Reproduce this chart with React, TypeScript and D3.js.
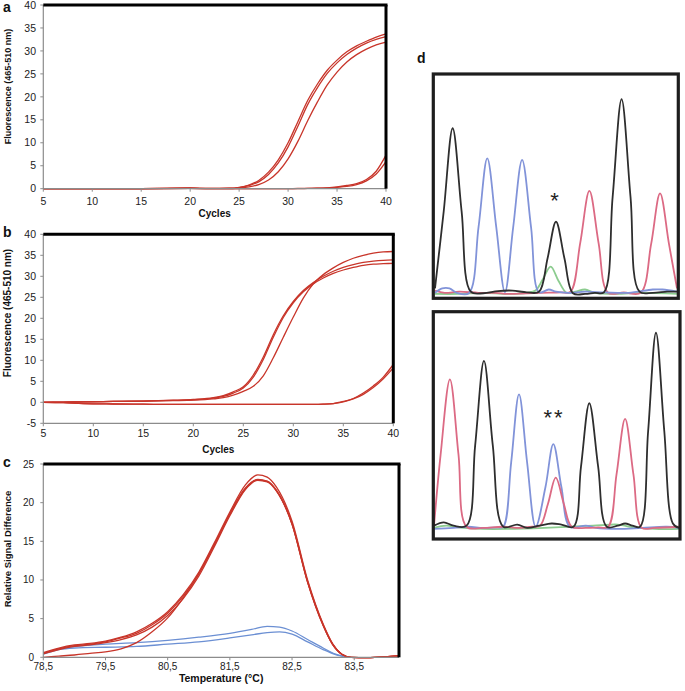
import React from "react";
import * as d3 from "d3";

// ---------- Panel a ----------
const cyclesA = [5, 10, 15, 20, 22, 24, 25, 26, 27, 28, 29, 30, 31, 32, 33, 34, 35, 36, 37, 38, 39, 40];
const a1 = [0, 0, 0, 0.1, 0.05, 0.1, 0.3, 0.8, 1.8, 3.6, 6.3, 10, 14.6, 19.2, 22.8, 25.8, 28.0, 29.8, 31.1, 32.1, 33.0, 33.7];
const a2 = [0, 0, 0, 0.1, 0.05, 0.1, 0.25, 0.7, 1.5, 3.1, 5.6, 9.1, 13.6, 18.3, 22.0, 25.1, 27.4, 29.2, 30.6, 31.7, 32.5, 33.1];
const a3 = [0, 0, 0, 0.05, 0, 0, 0.15, 0.4, 0.9, 1.9, 3.7, 6.5, 10.3, 14.8, 18.9, 22.6, 25.4, 27.6, 29.2, 30.4, 31.3, 31.9];
const a4 = [0, 0, 0, 0.1, 0, 0, 0, 0, 0, 0, 0, 0, 0.05, 0.05, 0.1, 0.2, 0.4, 0.7, 1.1, 2.0, 3.8, 7.3];
const a5 = [0, 0, 0, 0.05, 0, 0, 0, 0, 0, 0, 0, 0, 0, 0.05, 0.1, 0.15, 0.3, 0.5, 0.9, 1.7, 3.2, 5.9];
const xTicksAB = [5, 10, 15, 20, 25, 30, 35, 40];
const yTicksA = [0, 5, 10, 15, 20, 25, 30, 35, 40];

// ---------- Panel b ----------
const cyclesB = [5, 7, 9, 12, 15, 18, 20, 22, 23, 24, 25, 26, 27, 28, 29, 30, 31, 32, 33, 34, 35, 36, 37, 38, 39, 40];
const b1 = [0, 0.05, 0.1, 0.2, 0.3, 0.5, 0.7, 1.1, 1.6, 2.5, 3.7, 6.5, 10.8, 16.1, 20.6, 24, 26.6, 28.5, 30, 31.2, 32.1, 32.8, 33.3, 33.6, 33.8, 33.9];
const b2 = [0, 0.05, 0.1, 0.2, 0.3, 0.45, 0.6, 1.0, 1.4, 2.2, 3.4, 6.0, 10.2, 15.5, 20.2, 23.7, 26.3, 28.2, 29.6, 30.7, 31.5, 32.1, 32.6, 32.9, 33.0, 33.1];
const b3 = [0, 0.05, 0.1, 0.2, 0.3, 0.4, 0.5, 0.8, 1.1, 1.7, 2.6, 3.8, 6.3, 10.6, 15.5, 20.3, 24.8, 28.2, 30.4, 32, 33.3, 34.3, 35, 35.5, 35.8, 35.9];
const b4 = [0, -0.1, -0.3, -0.4, -0.45, -0.5, -0.5, -0.5, -0.5, -0.5, -0.5, -0.5, -0.5, -0.5, -0.5, -0.5, -0.5, -0.5, -0.45, -0.3, 0.2, 0.9, 2.2, 3.9, 6.0, 9.0];
const b5 = [0, -0.1, -0.3, -0.4, -0.45, -0.5, -0.5, -0.5, -0.5, -0.5, -0.5, -0.5, -0.5, -0.5, -0.5, -0.5, -0.5, -0.5, -0.45, -0.3, 0.1, 0.8, 1.9, 3.5, 5.6, 8.2];
const yTicksB = [-5, 0, 5, 10, 15, 20, 25, 30, 35, 40];

// ---------- Panel c ----------
const tempC = [78.5, 78.75, 79, 79.25, 79.5, 79.75, 80, 80.25, 80.5, 80.75, 81, 81.25, 81.5, 81.75, 81.95, 82.1, 82.25, 82.5, 82.75, 83, 83.15, 83.3, 83.45, 83.7, 84, 84.22];
const r1 = [0.6, 1.2, 1.6, 1.8, 2.1, 2.6, 3.3, 4.4, 5.9, 8.1, 11.0, 14.8, 18.8, 22.3, 23.6, 23.3, 22.0, 17.6, 10.0, 4.3, 1.8, 0.4, 0, -0.05, 0.05, 0.2];
const r2 = [0.5, 1.1, 1.5, 1.7, 2.0, 2.5, 3.1, 4.2, 5.7, 7.9, 10.8, 14.6, 18.6, 21.9, 23.0, 22.8, 21.6, 17.3, 9.8, 4.2, 1.7, 0.4, 0, -0.05, 0.05, 0.2];
const r3 = [0.45, 1.0, 1.4, 1.6, 1.9, 2.3, 2.9, 3.9, 5.4, 7.6, 10.5, 14.3, 18.3, 21.7, 22.9, 22.7, 21.5, 17.2, 9.7, 4.1, 1.7, 0.4, 0, -0.05, 0.05, 0.2];
const r4 = [0, 0.15, 0.3, 0.5, 0.7, 1.1, 1.9, 3.3, 5.1, 7.7, 10.8, 14.5, 18.5, 21.8, 22.95, 22.75, 21.55, 17.25, 9.75, 4.15, 1.7, 0.4, 0, -0.05, 0.05, 0.2];
const blueT = [78.5, 78.75, 79, 79.5, 80, 80.5, 81, 81.5, 81.85, 82.1, 82.3, 82.5, 82.75, 83, 83.2, 83.4];
const bl1 = [0.5, 1.1, 1.4, 1.7, 1.9, 2.2, 2.6, 3.1, 3.6, 4.0, 3.9, 3.4, 2.3, 1.2, 0.4, 0];
const bl2 = [0.4, 1.0, 1.2, 1.3, 1.4, 1.7, 2.0, 2.5, 2.9, 3.2, 3.3, 3.0, 2.0, 1.0, 0.35, 0];
const xTicksC = [78.5, 79.5, 80.5, 81.5, 82.5, 83.5];
const xTickLabelsC = ["78,5", "79,5", "80,5", "81,5", "82,5", "83,5"];
const yTicksC = [0, 5, 10, 15, 20, 25];

// ---------- Panel d (chromatograms, x: scan 0-100, y: signal 0-100) ----------
const dUpperBlack = [[0, 3], [3.6, 38], [7.3, 75.8], [11, 38], [14.8, 1.5], [20, 0.8], [26, 1.8], [32, 2], [38, 1.2], [43, 1.5], [46.5, 16.6], [50, 33.3], [53.5, 16.6], [57, 0.8], [62, 0.5], [66, 1], [69.8, 1.2], [73.4, 44.5], [77.1, 89], [80.8, 44.5], [84.5, 1.5], [90, 1], [96, 1.5], [100, 1.5]];
const dUpperBlue = [[0, 1], [3, 3], [6, 3], [9, 1], [14, 0.8], [18, 31], [21.6, 62.1], [25.3, 31], [28.9, 1.2], [32.3, 30.7], [36, 61.4], [39.7, 30.7], [43, 1.2], [47, 2.5], [50, 1.5], [55, 1], [62, 1.5], [70, 1.2], [80, 1], [90, 2.5], [94, 2.5], [100, 1.5]];
const dUpperRed = [[0, 2], [4, 1], [10, 1.5], [18, 1], [25, 1], [30, 0.5], [38, 0.8], [44, 1], [52, 1.2], [56, 1.5], [60, 23.6], [63.8, 47.3], [67.6, 23.6], [71.5, 1], [78, 1.2], [85, 1], [89.3, 23.1], [93, 46.2], [96.7, 23.1], [100, 3]];
const dUpperGreen = [[0, 0.5], [10, 0.5], [20, 1], [30, 0.5], [38, 1], [41.5, 2], [44.5, 7], [47.8, 12.9], [51, 6.5], [54.4, 1], [58, 1.5], [62, 2.5], [66, 1], [75, 0.5], [85, 1], [100, 0.5]];
const dLowerRed = [[0, 2], [2.7, 34.7], [6.5, 69.4], [10, 34.7], [13.3, 1.5], [20, 1], [28, 1.5], [35, 1], [40, 1.5], [43.3, 2], [46.5, 12], [49.7, 24.1], [53, 12], [56.2, 1.5], [62, 1], [67, 1.2], [71.1, 1.5], [74.5, 25.6], [78, 51.2], [81.4, 25.6], [84.8, 1], [90, 1], [100, 1.5]];
const dLowerBlack = [[0, 2], [4, 3.5], [8, 2], [13.3, 2], [16.8, 39], [20.4, 77.9], [24, 39], [28.3, 1.5], [34, 2.5], [38, 1], [43, 2], [48, 3], [52, 2.5], [56.9, 1.5], [60, 29.2], [63.4, 58.4], [67, 29.2], [70.5, 1.5], [75, 2], [78, 3], [81, 2], [84.1, 1.5], [87.4, 45.5], [90.6, 90.9], [94, 45.5], [97.5, 3], [100, 1]];
const dLowerBlue = [[0, 0.5], [8, 1], [14, 1.5], [20, 1], [26, 1.2], [28.3, 1.5], [31.5, 31.2], [34.7, 62.5], [38, 31.2], [41.5, 1.5], [45.5, 19.8], [48.7, 39.6], [52, 19.8], [55.5, 1.5], [62, 2], [66, 1], [75, 0.5], [85, 1], [95, 1.5], [100, 1]];
const dLowerGreen = [[0, 1], [5, 2], [10, 1.2], [20, 0.5], [30, 0.5], [45, 1], [55, 1.5], [65, 2], [75, 2.5], [80, 1.5], [90, 0.5], [100, 0.5]];

const FONT = "'Liberation Sans', Arial, Helvetica, sans-serif";
const RED = "#c8352a";
const BLUE = "#6b8fd3";
const AXIS = "#8c8c8c";
const C_BLACK = "#2e2e2e";
const C_BLUE = "#8193d9";
const C_RED = "#dc6a84";
const C_GREEN = "#8ccc8f";

type Series = { xs: number[]; ys: number[]; color: string };

function Panel(props: {
  x0: number; x1: number; yTop: number; yBot: number;
  xDomain: [number, number]; yDomain: [number, number];
  xTicks: number[]; xLabels: string[]; yTicks: number[];
  xLabelY: number; series: Series[];
  xTitle: string; xTitleY: number; yTitle: string; yTitleY: number; yTitleSize: number;
  letter: string; letterY: number; xTitleSize?: number; tickSize?: number; yLabelX?: number;
}) {
  const p = props;
  const x = d3.scaleLinear().domain(p.xDomain).range([p.x0, p.x1]);
  const y = d3.scaleLinear().domain(p.yDomain).range([p.yBot, p.yTop]);
  const line = d3.line<[number, number]>().x((d) => x(d[0])).y((d) => y(d[1])).curve(d3.curveMonotoneX);
  const ts = p.tickSize || 10.5;
  return (
    <g>
      {p.series.map((s, i) => (
        <path key={i} d={line(s.xs.map((v, j) => [v, s.ys[j]] as [number, number])) || ""}
          fill="none" stroke={s.color} strokeWidth={1.3} />
      ))}
      <line x1={p.x0} x2={p.x0} y1={p.yTop} y2={p.yBot} stroke={AXIS} strokeWidth={1.2} />
      <line x1={p.x0} x2={p.x1} y1={p.yBot} y2={p.yBot} stroke={AXIS} strokeWidth={1.2} />
      {p.xTicks.map((t, i) => (
        <g key={"xt" + i}>
          <line x1={x(t)} x2={x(t)} y1={p.yBot} y2={p.yBot + 3} stroke={AXIS} />
          <text x={x(t)} y={p.xLabelY} textAnchor="middle" fontSize={ts} fill="#222">{p.xLabels[i]}</text>
        </g>
      ))}
      {p.yTicks.map((t, i) => (
        <g key={"yt" + i}>
          <line x1={p.x0 - 3} x2={p.x0} y1={y(t)} y2={y(t)} stroke={AXIS} />
          <text x={p.yLabelX || 36} y={y(t)} dy="0.35em" textAnchor="end" fontSize={ts} fill="#222">{t}</text>
        </g>
      ))}
      <line x1={p.x0} x2={p.x1 + 1.5} y1={p.yTop} y2={p.yTop} stroke="#000" strokeWidth={3} />
      <line x1={p.x1} x2={p.x1} y1={p.yTop} y2={p.yBot} stroke="#000" strokeWidth={3} />
      <text x={(p.x0 + p.x1) / 2} y={p.xTitleY} textAnchor="middle" fontWeight="bold" fontSize={p.xTitleSize || 10} fill="#111">{p.xTitle}</text>
      <text transform={`translate(11,${p.yTitleY}) rotate(-90)`} textAnchor="middle" fontWeight="bold" fontSize={p.yTitleSize} fill="#111">{p.yTitle}</text>
      <text x={3} y={p.letterY} fontWeight="bold" fontSize={14} fill="#111">{p.letter}</text>
    </g>
  );
}

function Chromatogram(props: { bx: number; by: number; bw: number; bh: number; xr: [number, number]; yr: [number, number]; traces: { pts: number[][]; color: string }[]; mark: string; mx: number; my: number; clipId: string }) {
  const p = props;
  const x = d3.scaleLinear().domain([0, 100]).range(p.xr);
  const y = d3.scaleLinear().domain([0, 100]).range(p.yr);
  const line = d3.line<number[]>().x((d) => x(d[0])).y((d) => y(d[1])).curve(d3.curveCatmullRom.alpha(0.5));
  return (
    <g>
      <defs>
        <clipPath id={p.clipId}><rect x={p.bx} y={p.by} width={p.bw} height={p.bh} /></clipPath>
      </defs>
      <rect x={p.bx} y={p.by} width={p.bw} height={p.bh} fill="#fff" />
      <g clipPath={`url(#${p.clipId})`}>
        {p.traces.map((t, i) => (
          <path key={i} d={line(t.pts) || ""} fill="none" stroke={t.color} strokeWidth={1.8} strokeLinejoin="round" />
        ))}
      </g>
      <rect x={p.bx} y={p.by} width={p.bw} height={p.bh} fill="none" stroke="#1e1e1e" strokeWidth={3.2} />
      <text x={p.mx} y={p.my} textAnchor="middle" fontSize={22} fill="#222" letterSpacing={2}>{p.mark}</text>
    </g>
  );
}

export default function App() {
  const sA: Series[] = [a4, a5, a3, a2, a1].map((ys) => ({ xs: cyclesA, ys, color: RED }));
  const sB: Series[] = [b4, b5, b1, b2, b3].map((ys) => ({ xs: cyclesB, ys, color: RED }));
  const sC: Series[] = [
    { xs: blueT, ys: bl1, color: BLUE },
    { xs: blueT, ys: bl2, color: BLUE },
    ...[r4, r3, r2, r1].map((ys) => ({ xs: tempC, ys, color: RED })),
  ];
  return (
    <svg width={685} height={691} style={{ position: "absolute", left: 0, top: 0, background: "#fff" }} fontFamily={FONT}>
      <rect width={685} height={691} fill="#fff" />
      <Panel x0={43.3} x1={386} yTop={5} yBot={188.7} xDomain={[5, 40]} yDomain={[0, 40]}
        xTicks={xTicksAB} xLabels={xTicksAB.map(String)} yTicks={yTicksA} xLabelY={205} series={sA}
        xTitle="Cycles" xTitleY={217} yTitle="Fluorescence (465-510 nm)" yTitleY={86.5} yTitleSize={9}
        letter="a" letterY={12} />
      <Panel x0={43.3} x1={393.3} yTop={234.3} yBot={423.3} xDomain={[5, 40]} yDomain={[-5, 40]}
        xTicks={xTicksAB} xLabels={xTicksAB.map(String)} yTicks={yTicksB} xLabelY={437} series={sB}
        xTitle="Cycles" xTitleY={453} yTitle="Fluorescence (465-510 nm)" yTitleY={313} yTitleSize={10}
        letter="b" letterY={237} />
      <Panel x0={43.3} x1={399} yTop={464} yBot={657.3} xDomain={[78.5, 84.22]} yDomain={[0, 25]}
        xTicks={xTicksC} xLabels={xTickLabelsC} yTicks={yTicksC} xLabelY={670} series={sC}
        xTitle="Temperature (°C)" xTitleY={682} yTitle="Relative Signal Difference" yTitleY={549} yTitleSize={9.5}
        letter="c" letterY={467} xTitleSize={10.5} tickSize={10} yLabelX={34} />
      <text x={417} y={63} fontWeight="bold" fontSize={14} fill="#111">d</text>
      <Chromatogram bx={433.3} by={74} bw={245} bh={224.3} xr={[435, 677]} yr={[295, 75]} clipId="cu"
        traces={[
          { pts: dUpperGreen, color: C_GREEN },
          { pts: dUpperRed, color: C_RED },
          { pts: dUpperBlue, color: C_BLUE },
          { pts: dUpperBlack, color: C_BLACK },
        ]}
        mark="*" mx={555.5} my={208} />
      <Chromatogram bx={433.3} by={311.7} bw={246.7} bh={227.3} xr={[434, 679]} yr={[530, 313]} clipId="cl"
        traces={[
          { pts: dLowerGreen, color: C_GREEN },
          { pts: dLowerBlue, color: C_BLUE },
          { pts: dLowerRed, color: C_RED },
          { pts: dLowerBlack, color: C_BLACK },
        ]}
        mark="**" mx={554} my={425} />
    </svg>
  );
}
